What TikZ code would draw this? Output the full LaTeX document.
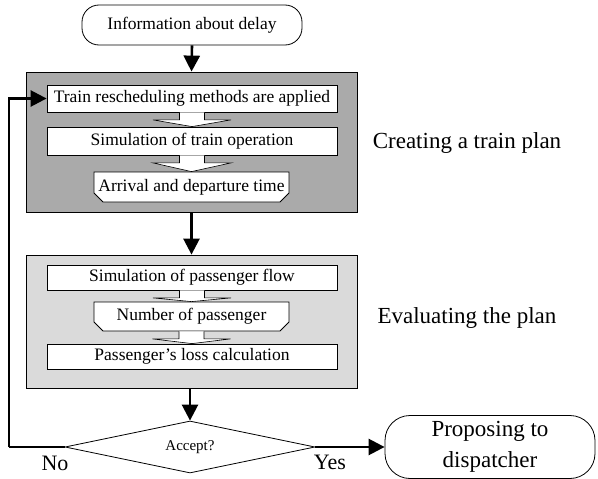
\documentclass[tikz,border=0pt]{standalone}
\usepackage{fontspec}
\setmainfont{Liberation Serif}
\usetikzlibrary{arrows.meta,shapes.geometric,shapes.misc,calc}
\definecolor{darkfill}{RGB}{170,170,170}
\definecolor{lightfill}{RGB}{218,218,218}
\tikzset{
  boxtext/.style={font=\fontsize{17.5}{19}\selectfont},
  stagebox/.style={draw,line width=0.8pt,minimum width=331pt,inner sep=0pt},
  stepbox/.style={draw,fill=white,line width=0.8pt,minimum width=290pt,inner sep=0pt,boxtext},
  databox/.style={draw,fill=white,line width=0.8pt,minimum width=195pt,inner sep=0pt,boxtext,
     chamfered rectangle,chamfered rectangle corners={south west,south east},
     chamfered rectangle xsep=4.5pt,chamfered rectangle ysep=4.5pt},
  termbox/.style={draw,fill=white,line width=0.8pt,inner sep=0pt},
  flow/.style={line width=2.6pt,-{Triangle[width=16pt,length=16pt]}},
  plainline/.style={line width=2.6pt},
  hollow/.style={draw,fill=white,line width=0.6pt},
  sidelabel/.style={font=\fontsize{23}{26}\selectfont},
}
\newcommand\hollowarrow[2]{%
  \path[hollow] ($(#1.south)+(-12.5,0)$) -- ($(#1.south)+(-12.5,7.5)$)
     -- ($(#1.south)+(-39,7.5)$) -- (#2.north) -- ($(#1.south)+(39,7.5)$)
     -- ($(#1.south)+(12.5,7.5)$) -- ($(#1.south)+(12.5,0)$);}
\begin{document}
\begin{tikzpicture}[x=1pt,y=-1pt]
\useasboundingbox (0,0) rectangle (598,479);
% stage boxes
\node[stagebox,fill=darkfill,minimum height=140pt] (stage1) at (191.5,142) {};
\node[stagebox,fill=lightfill,minimum height=133pt] (stage2) at (191.5,321.5) {};
% top terminal
\node[termbox,rounded corners=17pt,minimum width=220pt,minimum height=40pt,
      font=\fontsize{17.5}{20}\selectfont] (info) at (192,25) {Information about delay};
% steps of stage 1
\node[stepbox,minimum height=27pt] (train) at (192,98.5) {Train rescheduling methods are applied};
\node[stepbox,minimum height=28pt] (sim) at (192,141) {Simulation of train operation};
\node[databox,minimum height=30pt] (arrival) at (191.5,187) {Arrival and departure time};
% steps of stage 2
\node[stepbox,minimum height=25pt] (pflow) at (192,277.5) {Simulation of passenger flow};
\node[databox,minimum height=29pt] (number) at (191.5,316.5) {Number of passenger};
\node[stepbox,minimum height=25pt] (loss) at (192,356.5) {Passenger’s loss calculation};
% decision
\node[draw,diamond,line width=0.8pt,aspect=5,inner sep=0pt,minimum width=250pt,
      minimum height=52pt,font=\fontsize{15}{17}\selectfont] (dia) at (190,447) {Accept?};
\node[termbox,rounded corners=25pt,minimum width=210pt,minimum height=63pt,align=center,
      font=\fontsize{23}{31}\selectfont] (prop) at (490,447) {Proposing to\\dispatcher};
% side labels
\node[sidelabel] (lcreate) at (467,143) {Creating a train plan};
\node[sidelabel] (leval) at (467,318) {Evaluating the plan};
\node[font=\fontsize{22}{24}\selectfont] (lno) at (55,463) {No};
\node[font=\fontsize{22}{24}\selectfont] (lyes) at (330,462) {Yes};
% hollow arrows
\hollowarrow{train}{sim}
\hollowarrow{sim}{arrival}
\hollowarrow{pflow}{number}
\hollowarrow{number}{loss}
% main flow
\draw[flow] (info.south) -- (stage1.north);
\draw[flow] (stage1.south) -- (stage2.north);
\draw[flow] (stage2.south -| dia.north) -- (dia.north);
\draw[flow] (dia.east) -- (prop.west);
\coordinate (loopc) at (9,447);
\draw[plainline] (dia.west) -- (loopc);
\draw[flow] (loopc) |- (train.west);
\end{tikzpicture}
\end{document}
